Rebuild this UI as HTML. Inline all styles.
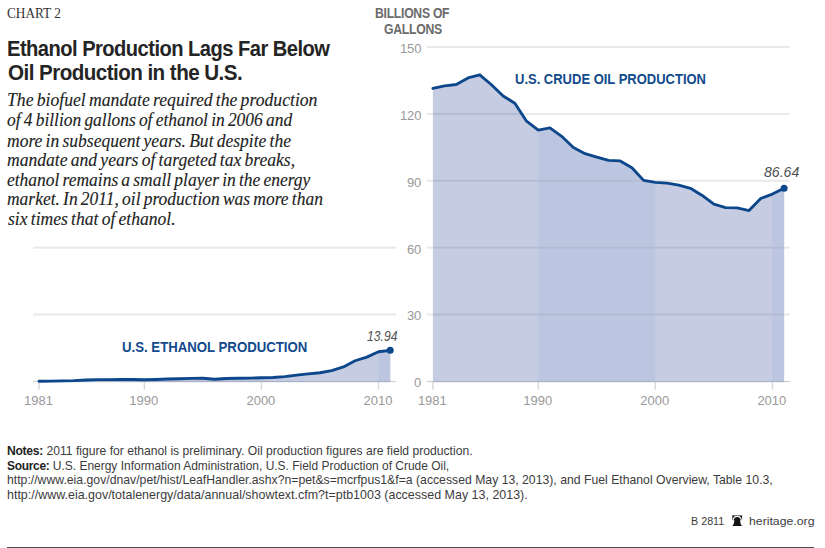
<!DOCTYPE html>
<html><head><meta charset="utf-8">
<style>
html,body{margin:0;padding:0;background:#fff;}
body{width:825px;height:548px;position:relative;overflow:hidden;}
.a{position:absolute;white-space:nowrap;transform-origin:0 0;}
#rule{left:7.3px;top:546.9px;width:806.7px;height:1.1px;background:#4d4d4d;}
</style></head><body>
<svg class="a" style="left:0;top:0" width="825" height="548" viewBox="0 0 825 548">
<rect x="33" y="246.64" width="363" height="2" fill="#e9e9e9"/>
<rect x="33" y="313.52" width="363" height="2" fill="#e9e9e9"/>
<clipPath id="cl"><path d="M39.00,381.40 L39.00,381.22 L50.71,381.09 L62.41,380.82 L74.12,380.58 L85.83,380.04 L97.53,379.68 L109.24,379.55 L120.95,379.53 L132.66,379.53 L144.36,379.75 L156.07,379.46 L167.78,379.01 L179.48,378.72 L191.19,378.43 L202.90,378.26 L214.61,379.22 L226.31,378.52 L238.02,378.26 L249.73,378.12 L261.43,377.79 L273.14,377.48 L284.85,376.61 L296.55,375.14 L308.26,373.82 L319.97,372.73 L331.68,370.57 L343.38,366.91 L355.09,360.76 L366.80,357.14 L378.50,351.77 L390.21,350.32 L390.21,381.40 Z"/></clipPath>
<g clip-path="url(#cl)">
<rect x="0" y="0" width="825" height="382.40" fill="#c6cde3"/>
<rect x="144.36" y="0" width="117.07" height="382.40" fill="#bdc6e0"/>
<rect x="378.50" y="0" width="23.41" height="382.40" fill="#bdc6e0"/>
<rect x="33" y="246.64" width="363" height="2" fill="#b4bcd4"/>
<rect x="33" y="313.52" width="363" height="2" fill="#b4bcd4"/>
</g>
<rect x="33" y="380.90" width="363" height="1.2" fill="#cfcfcf"/>
<rect x="39.00" y="380.90" width="351.21" height="1.2" fill="#a9b1c8"/>
<rect x="38.30" y="382.00" width="1.4" height="7.8" fill="#d8d8d8"/>
<rect x="143.66" y="382.00" width="1.4" height="7.8" fill="#d8d8d8"/>
<rect x="260.73" y="382.00" width="1.4" height="7.8" fill="#d8d8d8"/>
<rect x="377.80" y="382.00" width="1.4" height="7.8" fill="#d8d8d8"/>
<polyline points="39.00,381.22 50.71,381.09 62.41,380.82 74.12,380.58 85.83,380.04 97.53,379.68 109.24,379.55 120.95,379.53 132.66,379.53 144.36,379.75 156.07,379.46 167.78,379.01 179.48,378.72 191.19,378.43 202.90,378.26 214.61,379.22 226.31,378.52 238.02,378.26 249.73,378.12 261.43,377.79 273.14,377.48 284.85,376.61 296.55,375.14 308.26,373.82 319.97,372.73 331.68,370.57 343.38,366.91 355.09,360.76 366.80,357.14 378.50,351.77 390.21,350.32" fill="none" stroke="#0c468b" stroke-width="2.85" stroke-linejoin="round" stroke-linecap="round"/>
<circle cx="390.21" cy="350.32" r="3.5" fill="#0c468b"/>
<rect x="427" y="46.00" width="363" height="2" fill="#e9e9e9"/>
<rect x="427" y="112.88" width="363" height="2" fill="#e9e9e9"/>
<rect x="427" y="179.76" width="363" height="2" fill="#e9e9e9"/>
<rect x="427" y="246.64" width="363" height="2" fill="#e9e9e9"/>
<rect x="427" y="313.52" width="363" height="2" fill="#e9e9e9"/>
<clipPath id="cr"><path d="M432.90,381.40 L432.90,88.44 L444.61,85.81 L456.31,84.48 L468.02,77.94 L479.73,74.80 L491.44,84.76 L503.14,96.07 L514.85,103.20 L526.56,121.21 L538.26,130.04 L549.97,127.92 L561.68,136.33 L573.38,147.41 L585.09,153.72 L596.80,157.22 L608.50,160.45 L620.21,160.90 L631.92,167.74 L643.63,180.40 L655.33,182.43 L667.04,183.15 L678.75,185.08 L690.45,188.34 L702.16,195.45 L713.87,204.23 L725.58,207.58 L737.28,207.89 L748.99,210.52 L760.70,198.46 L772.40,194.05 L784.11,188.25 L784.11,381.40 Z"/></clipPath>
<g clip-path="url(#cr)">
<rect x="0" y="0" width="825" height="382.40" fill="#c6cde3"/>
<rect x="538.26" y="0" width="117.07" height="382.40" fill="#bdc6e0"/>
<rect x="772.40" y="0" width="23.41" height="382.40" fill="#bdc6e0"/>
<rect x="427" y="46.00" width="363" height="2" fill="#b4bcd4"/>
<rect x="427" y="112.88" width="363" height="2" fill="#b4bcd4"/>
<rect x="427" y="179.76" width="363" height="2" fill="#b4bcd4"/>
<rect x="427" y="246.64" width="363" height="2" fill="#b4bcd4"/>
<rect x="427" y="313.52" width="363" height="2" fill="#b4bcd4"/>
</g>
<rect x="427" y="380.90" width="363" height="1.2" fill="#cfcfcf"/>
<rect x="432.90" y="380.90" width="351.21" height="1.2" fill="#a9b1c8"/>
<rect x="432.20" y="382.00" width="1.4" height="7.8" fill="#d8d8d8"/>
<rect x="537.56" y="382.00" width="1.4" height="7.8" fill="#d8d8d8"/>
<rect x="654.63" y="382.00" width="1.4" height="7.8" fill="#d8d8d8"/>
<rect x="771.70" y="382.00" width="1.4" height="7.8" fill="#d8d8d8"/>
<polyline points="432.90,88.44 444.61,85.81 456.31,84.48 468.02,77.94 479.73,74.80 491.44,84.76 503.14,96.07 514.85,103.20 526.56,121.21 538.26,130.04 549.97,127.92 561.68,136.33 573.38,147.41 585.09,153.72 596.80,157.22 608.50,160.45 620.21,160.90 631.92,167.74 643.63,180.40 655.33,182.43 667.04,183.15 678.75,185.08 690.45,188.34 702.16,195.45 713.87,204.23 725.58,207.58 737.28,207.89 748.99,210.52 760.70,198.46 772.40,194.05 784.11,188.25" fill="none" stroke="#0c468b" stroke-width="2.85" stroke-linejoin="round" stroke-linecap="round"/>
<circle cx="784.11" cy="188.25" r="3.5" fill="#0c468b"/>
</svg>
<div class="a" style="left:6.83px;top:6.60px;font:13.7px/1 'Liberation Serif', serif;color:#333;transform:scaleX(0.9704)">CHART 2</div>
<div class="a" style="left:7.02px;top:37.70px;font:bold 22.6px/1 'Liberation Sans', sans-serif;color:#242424;letter-spacing:-0.6px;transform:scaleX(0.8911)">Ethanol Production Lags Far Below</div>
<div class="a" style="left:7.89px;top:62.10px;font:bold 22.6px/1 'Liberation Sans', sans-serif;color:#242424;letter-spacing:-0.6px;transform:scaleX(0.9118)">Oil Production in the U.S.</div>
<div class="a" style="left:7.02px;top:91.40px;font:italic 18px/1 'Liberation Serif', serif;color:#222;word-spacing:-1.2px;-webkit-text-stroke:0.12px #222;transform:scaleX(0.9810)">The biofuel mandate required the production</div>
<div class="a" style="left:7.03px;top:111.30px;font:italic 18px/1 'Liberation Serif', serif;color:#222;word-spacing:-1.2px;-webkit-text-stroke:0.12px #222;transform:scaleX(0.9684)">of 4 billion gallons of ethanol in 2006 and</div>
<div class="a" style="left:7.03px;top:131.60px;font:italic 18px/1 'Liberation Serif', serif;color:#222;word-spacing:-1.2px;-webkit-text-stroke:0.12px #222;transform:scaleX(0.9741)">more in subsequent years. But despite the</div>
<div class="a" style="left:7.02px;top:151.20px;font:italic 18px/1 'Liberation Serif', serif;color:#222;word-spacing:-1.2px;-webkit-text-stroke:0.12px #222;transform:scaleX(0.9768)">mandate and years of targeted tax breaks,</div>
<div class="a" style="left:7.03px;top:170.70px;font:italic 18px/1 'Liberation Serif', serif;color:#222;word-spacing:-1.2px;-webkit-text-stroke:0.12px #222;transform:scaleX(0.9699)">ethanol remains a small player in the energy</div>
<div class="a" style="left:7.03px;top:190.30px;font:italic 18px/1 'Liberation Serif', serif;color:#222;word-spacing:-1.2px;-webkit-text-stroke:0.12px #222;transform:scaleX(0.9707)">market. In 2011, oil production was more than</div>
<div class="a" style="left:8.00px;top:210.30px;font:italic 18px/1 'Liberation Serif', serif;color:#222;word-spacing:-1.2px;-webkit-text-stroke:0.12px #222;transform:scaleX(0.9765)">six times that of ethanol.</div>
<div class="a" style="left:375.02px;top:7.40px;font:bold 13.9px/1 'Liberation Sans', sans-serif;color:#6b6b6b;letter-spacing:-0.3px;transform:scaleX(0.8774)">BILLIONS OF</div>
<div class="a" style="left:383.52px;top:22.60px;font:bold 13.9px/1 'Liberation Sans', sans-serif;color:#6b6b6b;letter-spacing:-0.3px;transform:scaleX(0.8800)">GALLONS</div>
<div class="a" style="left:515.06px;top:73.40px;font:bold 13.8px/1 'Liberation Sans', sans-serif;color:#124a8c;transform:scaleX(0.9413)">U.S. CRUDE OIL PRODUCTION</div>
<div class="a" style="left:121.84px;top:341.00px;font:bold 13.8px/1 'Liberation Sans', sans-serif;color:#124a8c;transform:scaleX(0.9568)">U.S. ETHANOL PRODUCTION</div>
<div class="a" style="left:763.51px;top:165.10px;font:italic 14.2px/1 'Liberation Sans', sans-serif;color:#505050;transform:scaleX(0.9941)">86.64</div>
<div class="a" style="left:366.94px;top:328.60px;font:italic 14.2px/1 'Liberation Sans', sans-serif;color:#505050;transform:scaleX(0.8559)">13.94</div>
<div class="a" style="left:6.92px;top:444.90px;font:12.4px/1 'Liberation Sans', sans-serif;color:#3c3c3c;transform:scaleX(0.9801)"><b style="color:#1e1e1e;letter-spacing:-0.3px">Notes:</b> 2011 figure for ethanol is preliminary. Oil production figures are field production.</div>
<div class="a" style="left:6.93px;top:459.70px;font:12.4px/1 'Liberation Sans', sans-serif;color:#3c3c3c;transform:scaleX(0.9656)"><b style="color:#1e1e1e;letter-spacing:-0.3px">Source:</b> U.S. Energy Information Administration, U.S. Field Production of Crude Oil,</div>
<div class="a" style="left:6.91px;top:474.30px;font:12.4px/1 'Liberation Sans', sans-serif;color:#3c3c3c;transform:scaleX(0.9872)">http://www.eia.gov/dnav/pet/hist/LeafHandler.ashx?n=pet&amp;s=mcrfpus1&amp;f=a (accessed May 13, 2013), and Fuel Ethanol Overview, Table 10.3,</div>
<div class="a" style="left:6.89px;top:488.80px;font:12.4px/1 'Liberation Sans', sans-serif;color:#3c3c3c;transform:scaleX(1.0060)">http://www.eia.gov/totalenergy/data/annual/showtext.cfm?t=ptb1003 (accessed May 13, 2013).</div>
<div class="a" style="left:691.34px;top:516.20px;font:11.2px/1 'Liberation Sans', sans-serif;color:#3c3c3c;transform:scaleX(0.9606)">B 2811</div>
<div class="a" style="left:748.90px;top:516.20px;font:11.2px/1 'Liberation Sans', sans-serif;color:#3c3c3c;transform:scaleX(1.0966)">heritage.org</div>
<div class="a" style="left:399.90px;top:41.90px;font:13px/1 'Liberation Sans', sans-serif;color:#999999;transform:scaleX(1.0000)">150</div>
<div class="a" style="left:399.90px;top:108.78px;font:13px/1 'Liberation Sans', sans-serif;color:#999999;transform:scaleX(1.0000)">120</div>
<div class="a" style="left:406.90px;top:175.66px;font:13px/1 'Liberation Sans', sans-serif;color:#999999;transform:scaleX(1.0000)">90</div>
<div class="a" style="left:406.90px;top:242.54px;font:13px/1 'Liberation Sans', sans-serif;color:#999999;transform:scaleX(1.0000)">60</div>
<div class="a" style="left:406.90px;top:309.42px;font:13px/1 'Liberation Sans', sans-serif;color:#999999;transform:scaleX(1.0000)">30</div>
<div class="a" style="left:413.90px;top:376.30px;font:13px/1 'Liberation Sans', sans-serif;color:#999999;transform:scaleX(1.0000)">0</div>
<div class="a" style="left:24.00px;top:393.80px;font:13px/1 'Liberation Sans', sans-serif;color:#999999;transform:scaleX(1.0000)">1981</div>
<div class="a" style="left:129.36px;top:393.80px;font:13px/1 'Liberation Sans', sans-serif;color:#999999;transform:scaleX(1.0000)">1990</div>
<div class="a" style="left:246.43px;top:393.80px;font:13px/1 'Liberation Sans', sans-serif;color:#999999;transform:scaleX(1.0000)">2000</div>
<div class="a" style="left:363.50px;top:393.80px;font:13px/1 'Liberation Sans', sans-serif;color:#999999;transform:scaleX(1.0000)">2010</div>
<div class="a" style="left:417.90px;top:393.80px;font:13px/1 'Liberation Sans', sans-serif;color:#999999;transform:scaleX(1.0000)">1981</div>
<div class="a" style="left:523.26px;top:393.80px;font:13px/1 'Liberation Sans', sans-serif;color:#999999;transform:scaleX(1.0000)">1990</div>
<div class="a" style="left:640.33px;top:393.80px;font:13px/1 'Liberation Sans', sans-serif;color:#999999;transform:scaleX(1.0000)">2000</div>
<div class="a" style="left:757.40px;top:393.80px;font:13px/1 'Liberation Sans', sans-serif;color:#999999;transform:scaleX(1.0000)">2010</div>

<svg class="a" style="left:732px;top:514.5px" width="11" height="11.5" viewBox="0 0 11 11.5"><rect x="0.3" y="0.4" width="9.8" height="4.8" fill="#141414"/><path d="M5.2,2.5 C3,2.5 2.3,4 2.2,6 C2.1,8.5 1.4,10 0.2,11 L10.2,11 C9,10 8.3,8.5 8.2,6 C8.1,4 7.4,2.5 5.2,2.5 Z" fill="#141414"/><path d="M0.9,5.7 C1.2,2.9 3,1.4 5.2,1.4 C7.4,1.4 9.2,2.9 9.5,5.7" fill="none" stroke="#fff" stroke-width="1.1"/></svg>
<div class="a" id="rule"></div>
</body></html>
